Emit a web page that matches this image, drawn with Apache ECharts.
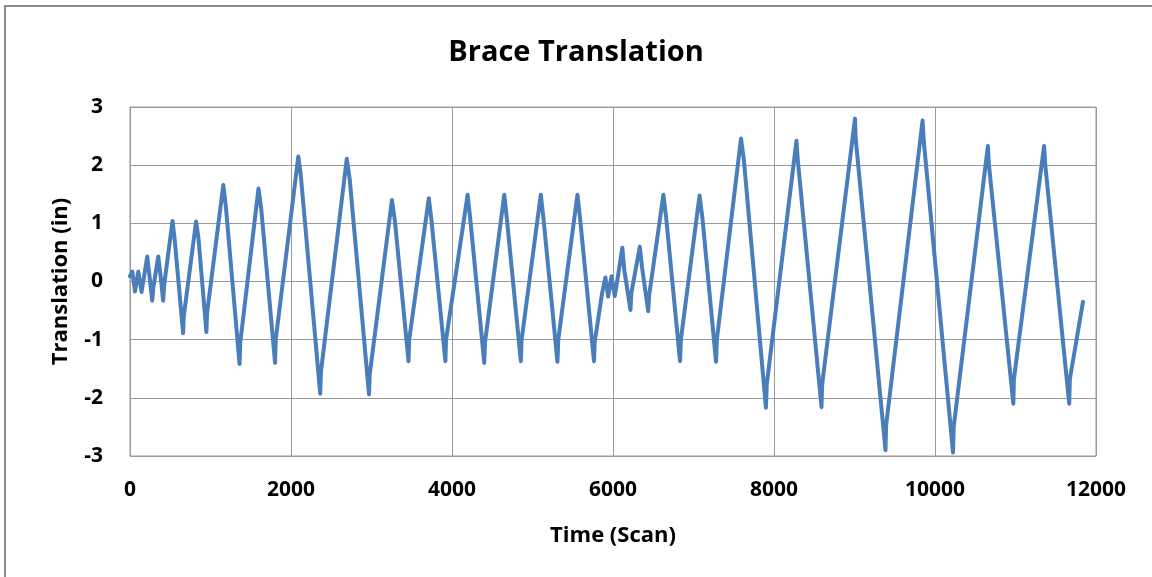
<!DOCTYPE html>
<html>
<head>
<meta charset="utf-8">
<script src="https://cdn.jsdelivr.net/npm/echarts@6/dist/echarts.min.js"></script>
<style>
html,body{margin:0;padding:0;background:#fff;}
#chart{width:1152px;height:577px;}
</style>
</head>
<body>
<div id="chart"></div>
<script>
// Time (Scan)
const scans = [
  0, 29, 62, 103, 144, 214, 250, 276, 290, 351, 380, 412, 425,
  528, 555, 660, 668, 821, 850, 949, 957,
  1159, 1190, 1361, 1370, 1596, 1630, 1802, 1810,
  2091, 2120, 2363, 2372, 2693, 2730, 2969, 2978,
  3254, 3290, 3460, 3468, 3712, 3745, 3918, 3926,
  4194, 4225, 4401, 4410, 4649, 4680, 4855, 4865,
  5103, 5135, 5310, 5320, 5558, 5590, 5764, 5772,
  5866, 5906, 5940, 5981, 6021, 6040,
  6116, 6140, 6217, 6228, 6333, 6360, 6438, 6448,
  6626, 6660, 6833, 6843, 7075, 7110, 7280, 7290,
  7590, 7625, 7900, 7910,
  8279, 8295, 8590, 8598, 9006, 9015, 9385, 9393,
  9846, 9860, 10224, 10232, 10657, 10670, 10973, 10980,
  11355, 11370, 11667, 11675, 11838
];
// Translation (in)
const translation = [
  0.09, 0.17, -0.17, 0.17, -0.18, 0.43, 0.0, -0.33, -0.1, 0.43, 0.1, -0.33, -0.05,
  1.04, 0.72, -0.89, -0.6, 1.03, 0.75, -0.87, -0.55,
  1.66, 1.3, -1.42, -1.05, 1.60, 1.25, -1.40, -1.0,
  2.15, 1.85, -1.93, -1.55, 2.11, 1.75, -1.94, -1.6,
  1.40, 1.05, -1.37, -1.0, 1.43, 1.05, -1.37, -1.0,
  1.49, 1.1, -1.40, -1.05, 1.49, 1.1, -1.37, -1.0,
  1.49, 1.1, -1.38, -1.0, 1.49, 1.1, -1.37, -1.05,
  -0.19, 0.07, -0.26, 0.09, -0.25, -0.1,
  0.58, 0.2, -0.49, -0.2, 0.60, 0.25, -0.51, -0.25,
  1.49, 1.1, -1.37, -1.0, 1.48, 1.1, -1.38, -1.0,
  2.46, 2.1, -2.17, -1.77,
  2.42, 2.1, -2.16, -1.77, 2.80, 2.45, -2.90, -2.47,
  2.77, 2.42, -2.94, -2.5, 2.33, 2.0, -2.10, -1.68,
  2.33, 2.0, -2.10, -1.68, -0.35
];
const xTicks = { min: 0, max: 12000, interval: 2000 };
const yTicks = { min: -3, max: 3, interval: 1 };

const points = scans.map((s, i) => [s, translation[i]]);
const FONT = '"Open Sans", sans-serif';

const chart = echarts.init(document.getElementById('chart'), null, { renderer: 'canvas' });
chart.setOption({
  animation: false,
  backgroundColor: '#ffffff',
  graphic: [{
    type: 'rect',
    shape: { x: 5, y: 6, width: 1300, height: 700 },
    style: { fill: 'none', stroke: '#8c8c8c', lineWidth: 2 },
    silent: true
  }],
  title: {
    text: 'Brace Translation',
    left: 'center',
    top: 33,
    textStyle: { fontFamily: FONT, fontWeight: 'bold', fontSize: 29, color: '#000' }
  },
  grid: {
    left: 130, right: 56, top: 107, bottom: 121,
    show: true, borderColor: '#9a9a9a', borderWidth: 1
  },
  xAxis: {
    type: 'value',
    min: xTicks.min, max: xTicks.max, interval: xTicks.interval,
    name: 'Time (Scan)',
    nameLocation: 'middle',
    nameGap: 69,
    nameTextStyle: { fontFamily: FONT, fontWeight: 'bold', fontSize: 22, color: '#000' },
    axisLine: { show: true, lineStyle: { color: '#9a9a9a' } },
    axisTick: { show: false },
    axisLabel: { fontFamily: FONT, fontWeight: 'bold', fontSize: 21, color: '#000', margin: 24,
      formatter: v => String(v) },
    splitLine: { show: true, lineStyle: { color: '#9a9a9a', width: 1 } }
  },
  yAxis: {
    type: 'value',
    min: yTicks.min, max: yTicks.max, interval: yTicks.interval,
    name: 'Translation (in)',
    nameLocation: 'middle',
    nameGap: 58,
    nameTextStyle: { fontFamily: FONT, fontWeight: 'bold', fontSize: 22, color: '#000' },
    axisLine: { show: true, lineStyle: { color: '#9a9a9a' } },
    axisTick: { show: false },
    axisLabel: { fontFamily: FONT, fontWeight: 'bold', fontSize: 21, color: '#000', margin: 27 },
    splitLine: { show: true, lineStyle: { color: '#9a9a9a', width: 1 } }
  },
  series: [{
    type: 'line',
    data: points,
    showSymbol: false,
    symbol: 'none',
    lineStyle: { color: '#4a7ebb', width: 4, join: 'round', cap: 'round' },
    z: 3
  }]
});
</script>
</body>
</html>
